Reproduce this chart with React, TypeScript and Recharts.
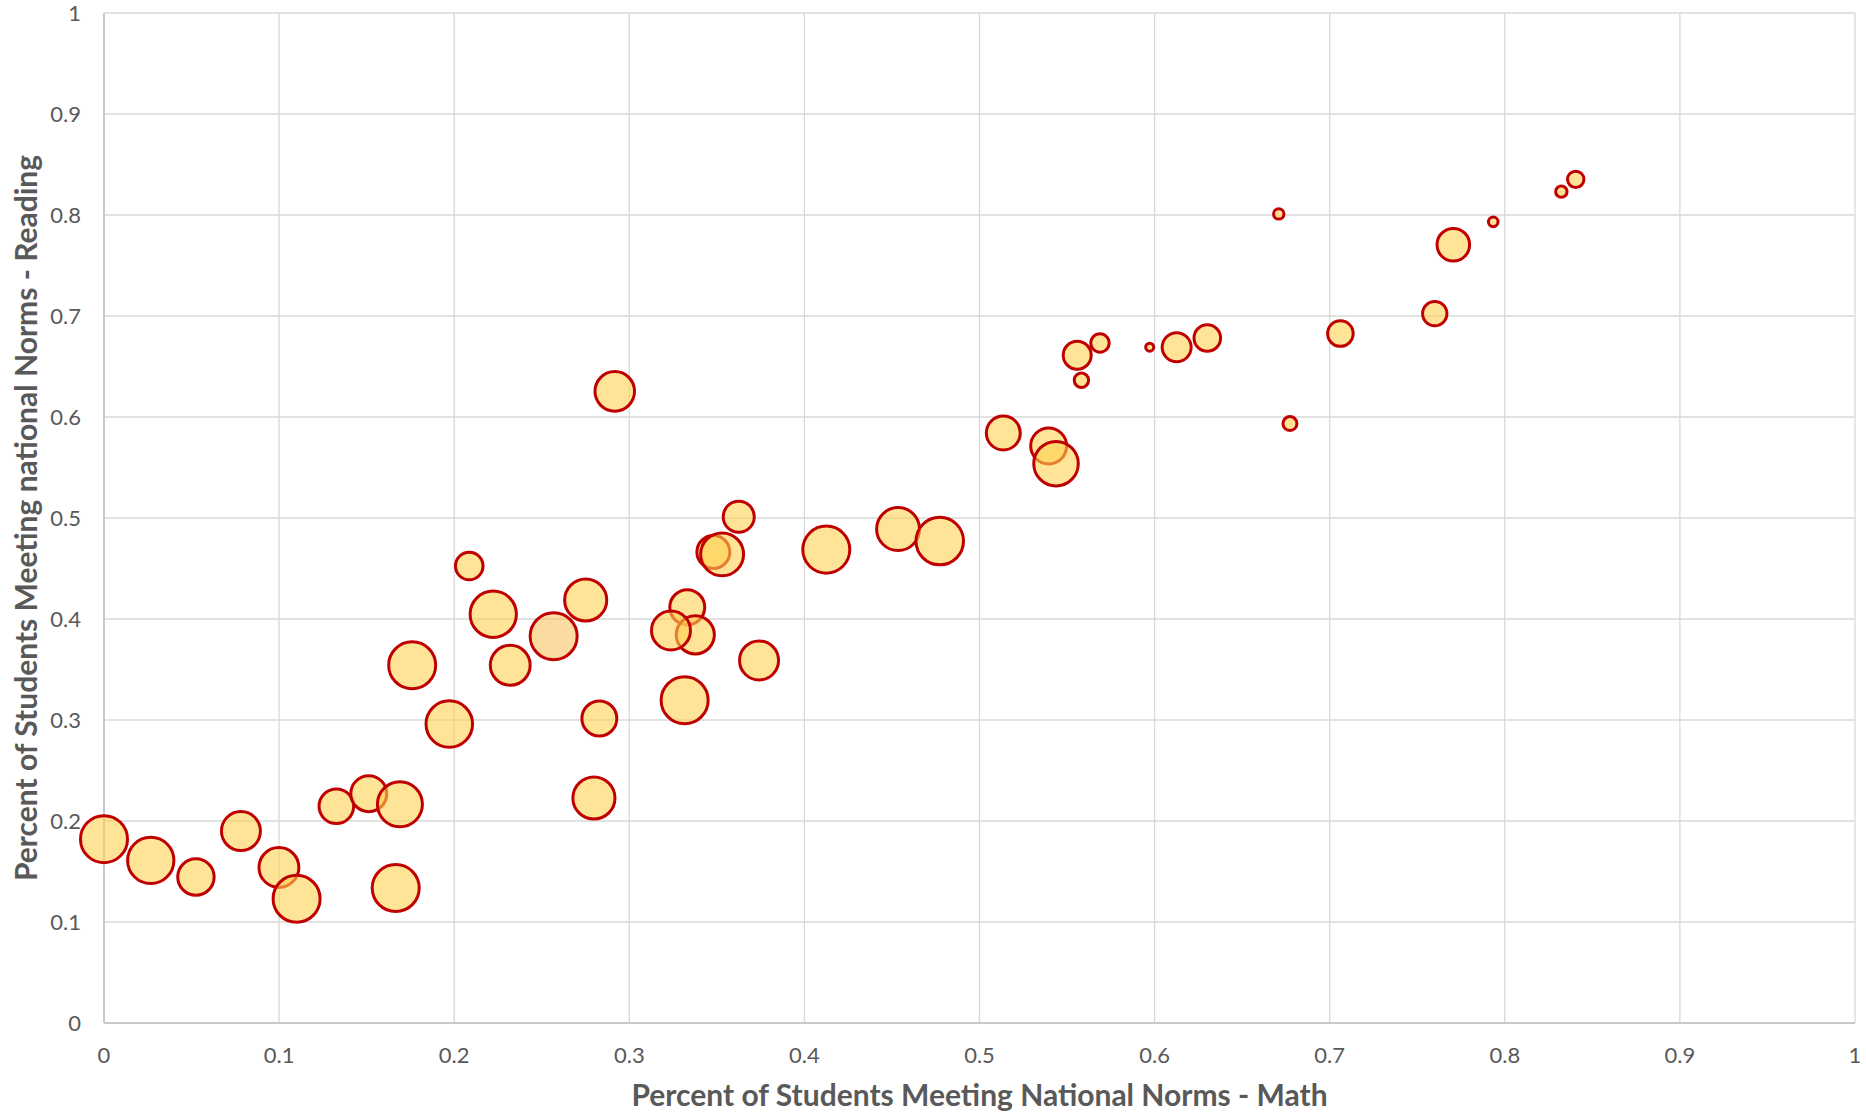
import React from 'react';
import { ScatterChart, Scatter, XAxis, YAxis, ZAxis, CartesianGrid, Cell, Label } from 'recharts';

const mathPct = [0, 0.0267, 0.0525, 0.0782, 0.0999, 0.11, 0.1327, 0.1512, 0.169, 0.1666, 0.2086, 0.2223, 0.2568, 0.2751, 0.176, 0.232, 0.1972, 0.2829, 0.2798, 0.3625, 0.348, 0.353, 0.4125, 0.3331, 0.3238, 0.3377, 0.3741, 0.3316, 0.5558, 0.5688, 0.5582, 0.5972, 0.6126, 0.6301, 0.7061, 0.76, 0.6773, 0.6709, 0.7706, 0.7934, 0.8323, 0.8405, 0.5136, 0.5395, 0.5437, 0.4535, 0.4773, 0.2917];
const readingPct = [0.182, 0.161, 0.1446, 0.19, 0.154, 0.123, 0.2146, 0.227, 0.2165, 0.1337, 0.4525, 0.4047, 0.3829, 0.4188, 0.3542, 0.3542, 0.296, 0.3015, 0.2228, 0.5012, 0.4663, 0.464, 0.4687, 0.4116, 0.3886, 0.3843, 0.359, 0.3195, 0.6611, 0.6733, 0.6364, 0.6691, 0.6691, 0.6782, 0.6826, 0.7024, 0.5935, 0.8011, 0.7706, 0.7932, 0.8231, 0.8353, 0.5841, 0.5713, 0.5538, 0.4891, 0.4772, 0.6254];
const bubbleSize = [96, 93, 57.5, 66, 69, 96, 52, 56, 88, 96, 33, 93, 96, 77, 96, 69, 94, 53, 77, 42, 47, 80, 96, 53, 66, 63, 66, 96, 34, 14.7, 9, 2.8, 36.5, 30.7, 28.4, 25.8, 8.5, 4.7, 46, 4, 5.6, 11.7, 50, 56, 86, 80, 98, 68];
const highlightedPoints = [12];

const axisTicks = [0, 0.1, 0.2, 0.3, 0.4, 0.5, 0.6, 0.7, 0.8, 0.9, 1];
const axisTickLabels = ['0', '0.1', '0.2', '0.3', '0.4', '0.5', '0.6', '0.7', '0.8', '0.9', '1'];

const xTitle = 'Percent of Students Meeting National Norms - Math';
const yTitle = 'Percent of Students Meeting national Norms - Reading';

const FONT = 'Lato, "Open Sans", sans-serif';
const TEXT_COLOR = '#595959';
const MAX_RADIUS = 24;

const points = mathPct
  .map((x, i) => ({ x, y: readingPct[i], z: bubbleSize[i], idx: i }))
  .sort((a, b) => a.z - b.z);

const XTitle = (props: any) => {
  const vb = props.viewBox;
  return (
    <text x={vb.x + vb.width / 2} y={1106} textAnchor="middle" fontFamily={FONT} fontWeight={700} fontSize={30} fill={TEXT_COLOR}>
      {xTitle}
    </text>
  );
};

const YTitle = (props: any) => {
  const vb = props.viewBox;
  const cx = 36.5;
  const cy = vb.y + vb.height / 2;
  return (
    <text x={cx} y={cy} textAnchor="middle" transform={`rotate(-90 ${cx} ${cy})`} fontFamily={FONT} fontWeight={700} fontSize={30} fill={TEXT_COLOR}>
      {yTitle}
    </text>
  );
};

export default function App() {
  return (
    <div style={{ position: 'absolute', left: 0, top: 0, width: 1866, height: 1115, background: '#fff' }}>
      <ScatterChart width={1866} height={1115} margin={{ top: 13, right: 11, left: 0, bottom: 0 }}>
        <CartesianGrid stroke="#D9D9D9" strokeWidth={1.3} />
        <XAxis
          type="number"
          dataKey="x"
          domain={[0, 1]}
          ticks={axisTicks}
          tickFormatter={(v: number, i: number) => axisTickLabels[i]}
          height={92}
          tickLine={false}
          tickSize={0}
          tickMargin={24}
          axisLine={{ stroke: '#BFBFBF', strokeWidth: 1.5 }}
          tick={{ fill: TEXT_COLOR, fontSize: 22, fontFamily: FONT }}
          interval={0}
        >
          <Label content={XTitle} />
        </XAxis>
        <YAxis
          type="number"
          dataKey="y"
          domain={[0, 1]}
          ticks={axisTicks}
          tickFormatter={(v: number, i: number) => axisTickLabels[i]}
          width={104}
          tickLine={false}
          tickSize={0}
          tickMargin={23}
          axisLine={{ stroke: '#BFBFBF', strokeWidth: 1.5 }}
          tick={{ fill: TEXT_COLOR, fontSize: 22, fontFamily: FONT }}
          interval={0}
        >
          <Label content={YTitle} />
        </YAxis>
        <ZAxis type="number" dataKey="z" domain={[0, 100]} range={[0, Math.PI * MAX_RADIUS * MAX_RADIUS]} />
        <Scatter data={points} shape="circle" stroke="#C00000" strokeWidth={3} fill="#FFD150" fillOpacity={0.6} isAnimationActive={false}>
          {points.map((p) => (
            <Cell key={p.idx} fill={highlightedPoints.includes(p.idx) ? '#F9C35F' : '#FFD150'} />
          ))}
        </Scatter>
      </ScatterChart>
    </div>
  );
}
